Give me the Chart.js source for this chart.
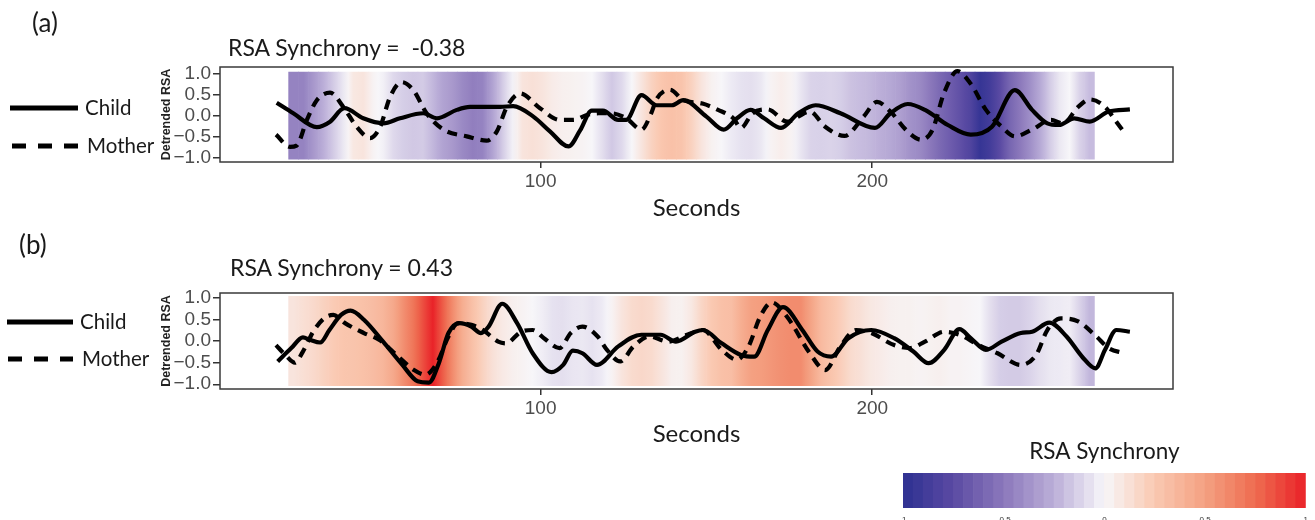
<!DOCTYPE html>
<html>
<head>
<meta charset="utf-8">
<script src="https://cdn.jsdelivr.net/npm/chart.js@4.4.1/dist/chart.umd.min.js"></script>
<style>
  html, body { margin: 0; padding: 0; background: #fff; overflow: hidden; }
  body { width: 1315px; height: 520px; position: relative; font-family: Lato, sans-serif; color: #1a1a1a; }
  canvas { position: absolute; }
  .txt { position: absolute; white-space: pre; line-height: 1; }
  .key { position: absolute; left: 0; }
</style>
</head>
<body>
<canvas id="chartA" width="1315" height="230" style="left:0;top:0"></canvas>
<canvas id="chartB" width="1315" height="230" style="left:0;top:226px"></canvas>
<canvas id="scaleBar" width="425" height="90" style="left:890px;top:430px"></canvas>

<div class="txt" style="left:32px;top:9px;font-size:26px">(a)</div>
<div class="txt" style="left:228px;top:36px;font-size:23px">RSA Synchrony =  -0.38</div>
<div class="txt" style="left:19px;top:231px;font-size:26px">(b)</div>
<div class="txt" style="left:230px;top:256px;font-size:23px">RSA Synchrony = 0.43</div>

<svg class="key" style="top:90px" width="80" height="70">
  <line x1="10" y1="18" x2="78" y2="18" stroke="#000" stroke-width="5"/>
  <line x1="12" y1="56" x2="78" y2="56" stroke="#000" stroke-width="5" stroke-dasharray="14 12"/>
</svg>
<div class="txt" style="left:85px;top:97px;font-size:20.5px">Child</div>
<div class="txt" style="left:87px;top:135px;font-size:20.5px">Mother</div>

<svg class="key" style="top:304px" width="80" height="70">
  <line x1="7" y1="18" x2="73" y2="18" stroke="#000" stroke-width="5"/>
  <line x1="8" y1="55" x2="73" y2="55" stroke="#000" stroke-width="5" stroke-dasharray="14 12"/>
</svg>
<div class="txt" style="left:80px;top:311px;font-size:20.5px">Child</div>
<div class="txt" style="left:82px;top:348px;font-size:20.5px">Mother</div>

<script>
// axis breaks
const xTickValues = [100, 200];
const yTickValues = [-1, -0.5, 0, 0.5, 1];
const colorbarTicks = [-1, -0.5, 0, 0.5, 1];

// centres of the synchrony window cells (seconds)
const heatSeconds = [25.5, 28.5, 31.5, 34.5, 37.5, 40.5, 43.5, 46.5, 49.5, 52.5,
  55.5, 58.5, 61.5, 64.5, 67.5, 70.5, 73.5, 76.5, 79.5, 82.5,
  85.5, 88.5, 91.5, 94.5, 97.5, 100.5, 103.5, 106.5, 109.5, 112.5,
  115.5, 118.5, 121.5, 124.5, 127.5, 130.5, 133.5, 136.5, 139.5, 142.5,
  145.5, 148.5, 151.5, 154.5, 157.5, 160.5, 163.5, 166.5, 169.5, 172.5,
  175.5, 178.5, 181.5, 184.5, 187.5, 190.5, 193.5, 196.5, 199.5, 202.5,
  205.5, 208.5, 211.5, 214.5, 217.5, 220.5, 223.5, 226.5, 229.5, 232.5,
  235.5, 238.5, 241.5, 244.5, 247.5, 250.5, 253.5, 256.5, 259.5, 262.5, 265.5];

// windowed synchrony, panel (a)
const heatA = [-0.45, -0.45, -0.35, -0.25, -0.15, -0.05, 0.08, 0.1, 0.02, -0.02,
  -0.1, -0.14, -0.16, -0.15, -0.22, -0.3, -0.35, -0.42, -0.47, -0.45,
  -0.3, -0.15, -0.02, 0.1, 0.12, 0.1, 0.06, 0.04, 0.03, 0.02,
  0.0, -0.08, -0.16, -0.1, 0.0, 0.1, 0.2, 0.27, 0.3, 0.28,
  0.2, 0.1, 0.03, 0.0, -0.04, -0.07, -0.08, -0.05, 0.02, 0.05,
  0.02, -0.06, -0.12, -0.13, -0.12, -0.14, -0.18, -0.2, -0.22, -0.25,
  -0.28, -0.32, -0.38, -0.42, -0.5, -0.58, -0.65, -0.72, -0.8, -0.95,
  -0.88, -0.75, -0.6, -0.5, -0.4, -0.28, -0.15, -0.05, 0.0, -0.12, -0.2];

// windowed synchrony, panel (b)
const heatB = [0.1, 0.13, 0.16, 0.2, 0.24, 0.27, 0.28, 0.3, 0.33, 0.37,
  0.45, 0.58, 0.7, 0.85, 1.0, 0.8, 0.6, 0.42, 0.3, 0.2,
  0.12, 0.07, 0.04, 0.02, 0.0, -0.03, -0.07, -0.08, -0.06, -0.05,
  -0.07, -0.04, 0.02, 0.1, 0.15, 0.17, 0.15, 0.1, 0.04, 0.03,
  0.08, 0.18, 0.25, 0.3, 0.32, 0.42, 0.5, 0.52, 0.55, 0.58,
  0.6, 0.6, 0.48, 0.35, 0.28, 0.22, 0.15, 0.12, 0.08, 0.06,
  0.04, 0.03, 0.03, 0.02, 0.03, 0.04, 0.02, 0.02, 0.01, 0.0,
  -0.08, -0.14, -0.15, -0.15, -0.12, -0.08, -0.05, -0.04, -0.03, -0.12, -0.22];

// panel (a) detrended RSA
const childSecA = [20.4, 25.4, 32.5, 36.5, 40.8, 46.5, 52.6, 57.6, 64.6, 68.7,
  74.7, 78.7, 87.8, 91.7, 97.8, 102.8, 108.4, 111.9, 115.4, 118.8,
  123.4, 125.8, 130.4, 135.0, 139.6, 143.0, 150.0, 155.2, 159.2, 163.3,
  167.4, 172.5, 177.7, 182.9, 190.4, 200.8, 205.5, 210.7, 215.9, 222.8,
  229.7, 236.1, 243.0, 248.2, 252.8, 256.3, 260.9, 265.6, 271.3, 277.7];
const childA = [0.31, 0.06, -0.27, -0.14, 0.18, -0.06, -0.18, -0.06, 0.06, -0.06,
  0.14, 0.21, 0.21, 0.23, -0.02, -0.37, -0.73, -0.35, 0.12, 0.12,
  -0.1, -0.1, 0.49, 0.25, 0.25, 0.37, -0.02, -0.33, -0.06, 0.14,
  -0.06, -0.29, 0.06, 0.25, 0.06, -0.29, 0.06, 0.28, 0.14, -0.22,
  -0.45, -0.26, 0.61, 0.14, -0.18, -0.22, -0.06, -0.14, 0.1, 0.15];
const motherSecA = [20.2, 24.4, 26.4, 29.5, 32.5, 36.5, 40.5, 44.5, 48.6, 51.6,
  54.6, 58.1, 61.6, 65.6, 70.7, 77.7, 83.7, 86.8, 89.8, 93.8,
  99.8, 105.8, 109.9, 113.9, 117.5, 121.1, 125.8, 130.4, 133.3, 135.0,
  139.0, 143.0, 148.8, 153.5, 158.1, 160.4, 163.9, 168.5, 174.3, 181.2,
  185.8, 191.6, 197.4, 201.4, 205.5, 210.1, 214.7, 218.2, 221.6, 225.7,
  229.7, 234.3, 239.0, 243.0, 248.2, 253.9, 257.5, 262.1, 265.6, 270.2,
  273.6, 276.5];
const motherA = [-0.45, -0.74, -0.71, -0.1, 0.37, 0.55, 0.21, -0.26, -0.53, -0.26,
  0.45, 0.8, 0.61, 0.06, -0.33, -0.49, -0.59, -0.37, 0.21, 0.53,
  0.18, -0.1, -0.1, 0.02, 0.06, 0.06, -0.06, -0.33, 0.05, 0.4,
  0.62, 0.37, 0.29, 0.14, -0.06, -0.29, 0.06, 0.15, -0.14, 0.1,
  -0.26, -0.48, -0.02, 0.33, 0.1, -0.33, -0.57, -0.33, 0.53, 1.06,
  0.76, 0.14, -0.26, -0.49, -0.33, -0.1, -0.18, 0.21, 0.39, 0.21,
  -0.14, -0.45];

// panel (b) detrended RSA
const childSecB = [20.7, 24.8, 28.3, 30.5, 33.5, 36.3, 39.8, 42.7, 46.7, 52.5,
  58.3, 62.9, 66.3, 69.3, 72.2, 75.6, 79.1, 82.0, 84.3, 88.4,
  92.9, 97.6, 103.3, 106.8, 109.7, 112.6, 117.0, 123.4, 130.4, 136.2,
  140.8, 146.6, 148.9, 154.6, 160.4, 164.4, 168.5, 173.1, 178.9, 183.5,
  187.6, 192.8, 199.7, 206.6, 212.4, 217.0, 221.7, 226.3, 229.7, 234.3,
  239.0, 244.8, 248.2, 253.4, 258.6, 263.3, 267.3, 270.2, 273.6, 277.7];
const childB = [-0.47, -0.16, 0.09, 0.03, -0.03, 0.26, 0.61, 0.71, 0.5, -0.01,
  -0.55, -0.93, -0.96, -0.51, 0.19, 0.42, 0.34, 0.19, 0.34, 0.87,
  0.42, -0.28, -0.72, -0.55, -0.22, -0.28, -0.55, -0.12, 0.15, 0.15,
  -0.01, 0.22, 0.26, -0.05, -0.32, -0.36, 0.26, 0.79, 0.26, -0.24,
  -0.36, 0.07, 0.26, 0.07, -0.24, -0.51, -0.2, 0.28, 0.07, -0.2,
  -0.01, 0.19, 0.22, 0.43, 0.11, -0.36, -0.63, -0.2, 0.26, 0.22];
const motherSecB = [20.2, 23.0, 25.9, 28.3, 31.7, 35.2, 37.5, 41.0, 46.7, 51.4,
  57.1, 61.8, 65.2, 68.7, 72.2, 75.1, 79.1, 82.6, 87.2, 89.5,
  94.1, 97.6, 101.0, 105.7, 109.1, 112.6, 117.2, 120.0, 124.0, 128.0,
  132.7, 138.5, 144.2, 148.9, 154.6, 159.2, 162.7, 166.2, 169.7, 174.3,
  181.2, 185.8, 190.4, 195.1, 199.7, 206.6, 211.3, 215.9, 221.7, 226.3,
  232.1, 237.8, 244.8, 249.4, 252.8, 256.9, 262.1, 267.6, 271.3, 275.9];
const motherB = [-0.09, -0.32, -0.5, -0.24, 0.26, 0.56, 0.61, 0.42, 0.19, 0.03,
  -0.36, -0.67, -0.78, -0.51, 0.11, 0.42, 0.38, 0.26, -0.01, -0.05,
  0.22, 0.26, 0.07, -0.16, 0.19, 0.34, 0.11, -0.2, -0.47, -0.12,
  0.11, -0.01, 0.15, 0.26, -0.2, -0.43, -0.12, 0.57, 0.9, 0.57,
  -0.28, -0.67, -0.12, 0.26, 0.19, -0.09, -0.16, -0.01, 0.22, 0.15,
  -0.09, -0.28, -0.55, -0.32, 0.26, 0.53, 0.46, 0.11, -0.16, -0.28];

// colour key cells
const colorbarValues = [-0.975, -0.925, -0.875, -0.825, -0.775, -0.725, -0.675, -0.625,
  -0.575, -0.525, -0.475, -0.425, -0.375, -0.325, -0.275, -0.225, -0.175, -0.125,
  -0.075, -0.025, 0.025, 0.075, 0.125, 0.175, 0.225, 0.275, 0.325, 0.375, 0.425,
  0.475, 0.525, 0.575, 0.625, 0.675, 0.725, 0.775, 0.825, 0.875, 0.925, 0.975];

// diverging palette
const paletteStops = [
  [-1, '#2d3091'], [-0.75, '#5a4aa3'], [-0.5, '#8b78bb'], [-0.25, '#bbaed8'],
  [0, '#f7f6f9'], [0.25, '#fac9b2'], [0.5, '#f4a182'], [0.75, '#ee6c50'], [1, '#e92228']
];
function hexRgb(h) {
  return [parseInt(h.slice(1, 3), 16), parseInt(h.slice(3, 5), 16), parseInt(h.slice(5, 7), 16)];
}
function heatColor(v) {
  v = Math.max(-1, Math.min(1, v));
  for (let i = 1; i < paletteStops.length; i++) {
    const [v1, c1] = paletteStops[i];
    if (v <= v1) {
      const [v0, c0] = paletteStops[i - 1];
      const f = (v - v0) / (v1 - v0);
      const a = hexRgb(c0), b = hexRgb(c1);
      const c = a.map((x, k) => Math.round(x + (b[k] - x) * f));
      return 'rgb(' + c.join(',') + ')';
    }
  }
  return paletteStops[paletteStops.length - 1][1];
}

// each cell blends into its neighbours so the band reads as a smooth strip
function cellFill(heat) {
  return ctx => {
    const chart = ctx.chart, i = ctx.dataIndex, xs = chart.scales.x;
    if (!xs || i === undefined) return heatColor(heat[0]);
    const half = (heatSeconds[1] - heatSeconds[0]) / 2;
    const x0 = xs.getPixelForValue(heatSeconds[i] - half);
    const x1 = xs.getPixelForValue(heatSeconds[i] + half);
    if (!isFinite(x0) || !isFinite(x1)) return heatColor(heat[i]);
    const prev = heat[Math.max(0, i - 1)], next = heat[Math.min(heat.length - 1, i + 1)];
    const g = chart.ctx.createLinearGradient(x0, 0, x1, 0);
    g.addColorStop(0, heatColor((prev + heat[i]) / 2));
    g.addColorStop(0.5, heatColor(heat[i]));
    g.addColorStop(1, heatColor((heat[i] + next) / 2));
    return g;
  };
}

const bandLow = -1.03, bandHigh = 1.04;
const tickFont = { family: 'Liberation Sans', size: 19 };

const framePlugin = {
  id: 'frame',
  afterDatasetsDraw(chart) {
    const { ctx, chartArea: a } = chart;
    ctx.save();
    ctx.strokeStyle = '#3a3a3a';
    ctx.lineWidth = 1.5;
    ctx.strokeRect(a.left, a.top, a.right - a.left, a.bottom - a.top);
    ctx.restore();
  }
};

function fmtY(v) {
  return v < 0 ? '\u2212' + (-v).toFixed(1) : v.toFixed(1);
}

function makePanel(id, heat, cSec, c, mSec, m, yMin, yMax, axisH) {
  return new Chart(document.getElementById(id), {
    type: 'line',
    data: {
      datasets: [
        {
          label: 'Child', data: cSec.map((t, i) => ({ x: t, y: c[i] })),
          borderColor: '#000', borderWidth: 4.2, pointRadius: 0,
          cubicInterpolationMode: 'monotone', order: 1
        },
        {
          label: 'Mother', data: mSec.map((t, i) => ({ x: t, y: m[i] })),
          borderColor: '#000', borderWidth: 4.2, borderDash: [10, 7], pointRadius: 0,
          cubicInterpolationMode: 'monotone', order: 1
        },
        {
          type: 'bar', label: 'RSA Synchrony',
          data: heatSeconds.map(t => ({ x: t, y: [bandLow, bandHigh] })),
          backgroundColor: cellFill(heat),
          barPercentage: 1, categoryPercentage: 1, borderWidth: 0, order: 2
        }
      ]
    },
    options: {
      responsive: false, animation: false, events: [],
      layout: { padding: { left: 150, right: 142, top: 67, bottom: 0 } },
      plugins: { legend: { display: false }, tooltip: { enabled: false } },
      scales: {
        x: {
          type: 'linear', min: 3.3, max: 290.7, offset: false,
          afterBuildTicks: s => { s.ticks = xTickValues.map(v => ({ value: v })); },
          afterFit: s => { s.height = axisH; },
          grid: { offset: false, drawOnChartArea: false, tickLength: 6, color: '#333', lineWidth: 1.5 },
          border: { display: false },
          ticks: { font: tickFont, color: '#4d4d4d', padding: 2, maxRotation: 0, autoSkip: false },
          title: {
            display: true, text: 'Seconds', color: '#1a1a1a',
            font: { family: 'Lato', size: 24 }, padding: { top: 0, bottom: 7 }
          }
        },
        y: {
          type: 'linear', min: yMin, max: yMax,
          afterBuildTicks: s => { s.ticks = yTickValues.map(v => ({ value: v })); },
          afterFit: s => { s.width = 70; },
          grid: { offset: false, drawOnChartArea: false, tickLength: 7, color: '#333', lineWidth: 1.5 },
          border: { display: false },
          ticks: { font: tickFont, color: '#4d4d4d', padding: 2, autoSkip: false, callback: fmtY },
          title: {
            display: true, text: 'Detrended RSA', color: '#222',
            font: { family: 'Liberation Sans', size: 12.5, weight: 'bold' },
            padding: { top: 9, bottom: 0 }
          }
        }
      }
    },
    plugins: [framePlugin]
  });
}

makePanel('chartA', heatA, childSecA, childA, motherSecA, motherA, -1.1, 1.16, 68);
makePanel('chartB', heatB, childSecB, childB, motherSecB, motherB, -1.11, 1.12, 67);

new Chart(document.getElementById('scaleBar'), {
  type: 'bar',
  data: {
    datasets: [{
      data: colorbarValues.map(v => ({ x: v, y: 1 })),
      backgroundColor: colorbarValues.map(heatColor),
      barPercentage: 1, categoryPercentage: 1, borderWidth: 0
    }]
  },
  options: {
    responsive: false, animation: false, events: [],
    layout: { padding: { left: 13, right: 6, top: 0, bottom: 0 } },
    plugins: {
      legend: { display: false }, tooltip: { enabled: false },
      title: {
        display: true, text: 'RSA Synchrony', fullSize: false, color: '#1a1a1a',
        font: { family: 'Lato', size: 22.5, weight: 'normal' }, padding: { top: 8, bottom: 8 }
      }
    },
    scales: {
      x: {
        type: 'linear', min: -1, max: 1, offset: false,
        afterBuildTicks: s => { s.ticks = colorbarTicks.map(v => ({ value: v })); },
        afterFit: s => { s.height = 12; },
        grid: { display: false, drawTicks: false, tickLength: 0, offset: false }, border: { display: false },
        ticks: { font: { family: 'Liberation Sans', size: 8 }, color: '#333', padding: 7, maxRotation: 0, autoSkip: false, callback: v => String(v) }
      },
      y: { display: false, min: 0, max: 1 }
    }
  }
});
</script>
</body>
</html>
